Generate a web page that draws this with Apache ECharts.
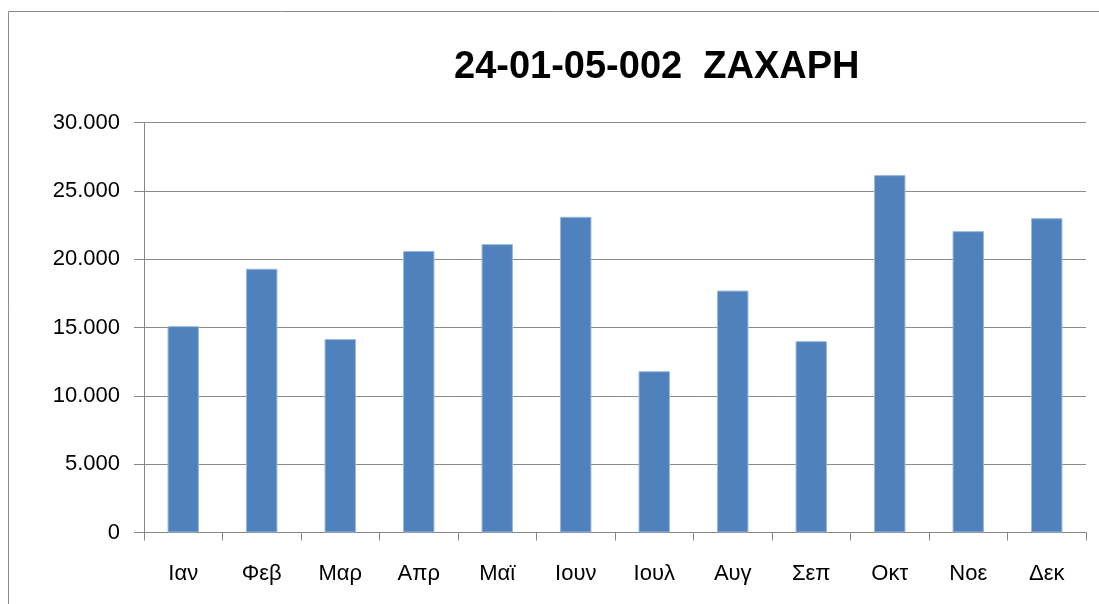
<!DOCTYPE html>
<html>
<head>
<meta charset="utf-8">
<script src="https://cdn.jsdelivr.net/npm/echarts@6/dist/echarts.min.js"></script>
<style>
html,body{margin:0;padding:0;background:#fff;}
#main{width:1099px;height:604px;}
</style>
</head>
<body>
<div id="main"></div>
<script>
const titleText = '24-01-05-002  ZAXAPH';
const categories = ['Ιαν','Φεβ','Μαρ','Απρ','Μαϊ','Ιουν','Ιουλ','Αυγ','Σεπ','Οκτ','Νοε','Δεκ'];
const values = [15100, 19300, 14150, 20600, 21100, 23100, 11800, 17700, 14000, 26150, 22050, 23000];
const yTicks = [0, 5000, 10000, 15000, 20000, 25000, 30000];

const chart = echarts.init(document.getElementById('main'), null, {renderer:'canvas'});
const fmt = v => String(v).replace(/\B(?=(\d{3})+(?!\d))/g, '.');
chart.setOption({
  animation:false,
  backgroundColor:'#fff',
  graphic:[{
    type:'rect', silent:true,
    shape:{x:8.5, y:11.5, width:1200, height:700},
    style:{fill:'none', stroke:'#8a8a8a', lineWidth:1}
  }],
  title:{
    text:titleText, left:449, top:44,
    textStyle:{fontFamily:'Liberation Sans', fontWeight:'bold', fontSize:38, color:'#000'}
  },
  grid:{left:144, right:13, top:122.5, bottom:71.5, containLabel:false},
  xAxis:{
    type:'category', data:categories,
    axisLine:{lineStyle:{color:'#868686', width:1}},
    axisTick:{show:true, alignWithLabel:false, length:8, lineStyle:{color:'#868686'}},
    axisLabel:{fontFamily:'Liberation Sans', fontSize:22, color:'#000', margin:30, interval:0}
  },
  yAxis:{
    type:'value', min:0, max:yTicks[yTicks.length-1], interval:yTicks[1]-yTicks[0],
    axisLine:{show:true, lineStyle:{color:'#868686', width:1}},
    axisTick:{show:true, inside:false, length:10, lineStyle:{color:'#868686'}},
    splitLine:{show:true, lineStyle:{color:'#8c8c8c', width:1}},
    axisLabel:{fontFamily:'Liberation Sans', fontSize:22, color:'#000', margin:24, formatter:fmt}
  },
  series:[{
    type:'bar', data:values, barWidth:'40%',
    itemStyle:{color:'#4F81BD', borderColor:'#9ab6dc', borderWidth:1}
  }]
});
</script>
</body>
</html>
